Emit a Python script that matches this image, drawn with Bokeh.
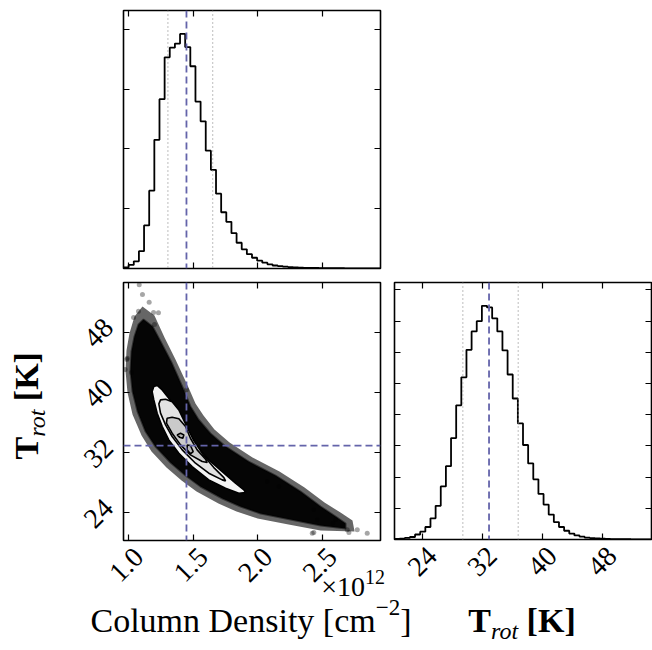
import math
import numpy as np
from bokeh.plotting import figure
from bokeh.models import (Span, LinearAxis, FixedTicker, Range1d, Div,
                          CustomJSTickFormatter)
from bokeh.layouts import column, row
from bokeh.embed import file_html
from bokeh.resources import INLINE

FONT = "Liberation Serif"

# ---------------- data ----------------
cd_range = (0.959, 2.951)          # column density, x 1e12 cm^-2
t_range = (20.28, 54.59)           # T_rot [K]
cd_ticks = [1.0, 1.5, 2.0, 2.5]
t_ticks = [24, 32, 40, 48]
cd_hist_ticks = [1000, 2000, 3000, 4000]
t_hist_ticks = [1000, 2000, 3000, 4000, 5000, 6000, 7000, 8000]

cd_counts = [20, 60, 120, 290, 720, 1300, 2150, 2830, 3530, 3690,
             3760, 3920, 3700, 3380, 2790, 2460, 1970, 1650, 1250, 940,
             780, 590, 430, 320, 240, 180, 130, 98, 70, 50,
             40, 31, 24, 20, 16, 12, 10, 8, 7, 6,
             5, 4, 4, 3, 3, 2, 2, 2, 1, 1]
t_counts = [20, 30, 50, 80, 160, 250, 400, 680, 1080, 1700,
            2350, 3250, 4300, 5200, 6080, 6670, 7000, 7490, 7440, 7090,
            6670, 6060, 5290, 4520, 3720, 3030, 2440, 1930, 1460, 1120,
            800, 560, 400, 280, 190, 130, 90, 60, 45, 35,
            25, 20, 15, 12, 10, 8, 6, 5, 4, 3]

cd_median, cd_q16, cd_q84 = 1.447, 1.303, 1.650
t_median, t_q16, t_q84 = 32.9, 29.4, 36.8

# dense sample cloud outline
cloud_x = [1.114, 1.184, 1.246, 1.331, 1.424, 1.478, 1.540, 1.633, 1.750, 1.928,
           2.137, 2.331, 2.486, 2.602, 2.680, 2.680, 2.486, 2.254, 2.021, 1.866,
           1.726, 1.556, 1.440, 1.323, 1.207, 1.130, 1.068, 1.029, 1.013, 1.021,
           1.044, 1.075]
cloud_t = [49.66, 48.73, 46.74, 43.95, 40.36, 38.10, 36.37, 34.51, 32.78, 30.78,
           28.92, 26.79, 24.80, 23.47, 22.54, 21.87, 22.27, 23.07, 23.87, 24.80,
           25.86, 27.46, 28.92, 30.65, 32.78, 34.77, 37.43, 40.09, 42.75, 45.41,
           47.40, 49.00]
# thin fuzzy fringe around the cloud
halo_x = [1.106, 1.199, 1.277, 1.362, 1.463, 1.517, 1.579, 1.664, 1.781, 1.959,
          2.168, 2.362, 2.517, 2.641, 2.734, 2.750, 2.486, 2.238, 1.998, 1.835,
          1.695, 1.525, 1.409, 1.292, 1.176, 1.099, 1.029, 0.990, 0.975, 0.982,
          1.005, 1.044]
halo_t = [51.40, 50.20, 47.28, 44.35, 40.63, 38.50, 36.90, 35.04, 33.31, 31.32,
          29.46, 27.33, 25.33, 24.00, 22.94, 21.48, 21.61, 22.40, 23.20, 24.13,
          25.19, 26.79, 28.25, 29.98, 32.11, 34.24, 37.03, 39.96, 42.75, 45.55,
          47.81, 50.07]
# isolated samples
out_x = [1.081, 1.106, 1.158, 1.075, 1.192, 1.230, 1.037, 0.985, 0.972, 1.023,
         1.199, 0.988, 1.447, 2.073, 2.163, 2.434, 2.461, 2.581, 2.602, 2.654,
         2.693, 2.706, 2.771, 2.848, 2.422, 2.434]
out_t = [54.30, 52.99, 51.97, 50.77, 50.60, 50.56, 49.93, 44.35, 43.02, 42.62,
         49.00, 44.52, 40.32, 28.12, 27.46, 24.36, 23.03, 22.58, 23.03, 22.36,
         21.70, 21.34, 21.70, 21.25, 21.25, 21.34]

# density contours
c1_x = [1.194, 1.181, 1.194, 1.220, 1.259, 1.310, 1.388, 1.491, 1.620, 1.750, 1.853,
        1.905, 1.892, 1.827, 1.724, 1.620, 1.530, 1.453, 1.388, 1.310, 1.259, 1.220]
c1_t = [40.76, 40.09, 38.98, 37.21, 35.44, 33.66, 31.89, 30.12, 28.34, 27.24, 26.57,
        26.66, 27.02, 27.90, 29.45, 31.00, 32.78, 35.00, 37.21, 39.20, 40.31, 40.89]
c2_x = [1.246, 1.233, 1.246, 1.285, 1.336, 1.414, 1.517, 1.620, 1.724, 1.750,
        1.737, 1.659, 1.582, 1.504, 1.440, 1.388, 1.336, 1.285]
c2_t = [38.98, 38.45, 37.21, 35.66, 34.11, 32.33, 30.56, 29.23, 28.34, 28.21,
        28.65, 29.98, 31.54, 33.57, 35.79, 37.65, 38.72, 39.07]
c3_x = [1.297, 1.292, 1.336, 1.401, 1.478, 1.569, 1.608, 1.595, 1.530, 1.478,
        1.440, 1.388, 1.336]
c3_t = [36.54, 35.88, 34.55, 33.00, 31.67, 30.78, 30.65, 31.09, 32.33, 33.88,
        35.44, 36.46, 36.68]
c4_x = [1.375, 1.401, 1.427, 1.419, 1.393]
c4_t = [34.33, 34.55, 34.33, 33.88, 34.02]
c5_x = [1.453, 1.478, 1.499, 1.478, 1.453]
c5_t = [32.97, 32.91, 32.11, 31.80, 32.33]

# axis titles
x_title_left = ("Column Density [cm", "\u22122", "]")
x_title_right = ("T", "rot", " [K]")
x_multiplier = ("\u00d710", "12")

# ---------------- style ----------------
MED_COLOR = "#6464aa"
Q_COLOR = "#9a9a9a"
FRAME = 257
TICK_FONT = "28px"


def make_fig(xr, yr, fw, fh, bl, br, bt, bb):
    p = figure(x_range=Range1d(*xr), y_range=Range1d(*yr),
               frame_width=fw, frame_height=fh,
               min_border_left=bl, min_border_right=br,
               min_border_top=bt, min_border_bottom=bb,
               x_axis_location=None, y_axis_location=None,
               toolbar_location=None, output_backend="svg")
    p.xgrid.grid_line_color = None
    p.ygrid.grid_line_color = None
    p.outline_line_color = "black"
    p.outline_line_width = 1.6
    p.outline_line_alpha = 1.0
    p.background_fill_color = "white"
    p.border_fill_color = "white"
    return p


def tick_axis(p, place, ticks):
    ax = LinearAxis(ticker=FixedTicker(ticks=ticks))
    ax.axis_line_color = None
    ax.major_tick_in = 6
    ax.major_tick_out = 0
    ax.major_tick_line_color = "black"
    ax.major_tick_line_width = 1.2
    ax.minor_tick_line_color = None
    ax.major_label_text_color = None
    ax.major_label_text_font_size = "0px"
    ax.major_label_standoff = 0
    p.add_layout(ax, place)


def label_axis(p, place, ticks, shift, digits, standoff):
    # rotated tick labels, centred on their ticks (anchor moved by `shift`)
    ax = LinearAxis(ticker=FixedTicker(ticks=[t + shift for t in ticks]),
                    formatter=CustomJSTickFormatter(
                        args=dict(s=shift, d=digits),
                        code="return (tick - s).toFixed(d);"))
    ax.axis_line_color = None
    ax.major_tick_line_color = None
    ax.minor_tick_line_color = None
    ax.major_tick_in = 0
    ax.major_tick_out = 0
    ax.major_label_text_font = FONT
    ax.major_label_text_font_size = TICK_FONT
    ax.major_label_text_color = "black"
    ax.major_label_orientation = math.pi / 4
    ax.major_label_standoff = standoff
    p.add_layout(ax, place)


def step_hist(p, lo, hi, counts):
    edges = np.linspace(lo, hi, len(counts) + 1)
    ys = np.concatenate([[0.0], np.asarray(counts, float), [0.0]])
    xs = np.concatenate([[edges[0]], edges])
    p.step(x=xs, y=ys, mode="after", line_color="black", line_width=1.8)


def vline(p, loc, color, dash, width):
    p.add_layout(Span(location=loc, dimension="height", line_color=color,
                      line_dash=dash, line_width=width))


def hline(p, loc, color, dash, width):
    p.add_layout(Span(location=loc, dimension="width", line_color=color,
                      line_dash=dash, line_width=width))


cd_per_px = (cd_range[1] - cd_range[0]) / 257.0
t_per_px_x = (t_range[1] - t_range[0]) / 257.0
t_per_px_y = (t_range[1] - t_range[0]) / 258.0

# ---------------- top-left: column density histogram ----------------
cd_ymax = 1.1 * max(cd_counts)
p1 = make_fig(cd_range, (0, cd_ymax), FRAME, 258, 123, 8, 10, 3)
step_hist(p1, cd_range[0], cd_range[1], cd_counts)
vline(p1, cd_q16, Q_COLOR, "1 3", 1.3)
vline(p1, cd_q84, Q_COLOR, "1 3", 1.3)
vline(p1, cd_median, MED_COLOR, "7 4", 1.8)
tick_axis(p1, "below", cd_ticks)
tick_axis(p1, "above", cd_ticks)
tick_axis(p1, "left", cd_hist_ticks)
tick_axis(p1, "right", cd_hist_ticks)

# ---------------- bottom-left: 2D ----------------
ROW_H = 329
p2 = make_fig(cd_range, t_range, FRAME, 258, 63, 8, 10, 61)
p2.patch(halo_x, halo_t, fill_color="black", fill_alpha=0.6, line_color=None)
p2.scatter(out_x, out_t, size=5, fill_color="black", fill_alpha=0.35, line_color=None)
p2.patch(cloud_x, cloud_t, fill_color="black", fill_alpha=0.95,
         line_color="black", line_alpha=0.5, line_width=2)
p2.patch(c1_x, c1_t, fill_color="#f4f4f4", line_color="black", line_width=1.6)
p2.patch(c2_x, c2_t, fill_color="#e2e2e2", line_color="black", line_width=1.6)
p2.patch(c3_x, c3_t, fill_color="#cacaca", line_color="black", line_width=1.6)
p2.patch(c4_x, c4_t, fill_color="#b5b5b5", line_color="black", line_width=1.6)
p2.patch(c5_x, c5_t, fill_color="#b5b5b5", line_color="black", line_width=1.6)
vline(p2, cd_median, MED_COLOR, "7 4", 1.8)
hline(p2, t_median, MED_COLOR, "7 4", 1.8)
tick_axis(p2, "below", cd_ticks)
label_axis(p2, "below", cd_ticks, 10 * cd_per_px, 1, 12)
tick_axis(p2, "above", cd_ticks)
tick_axis(p2, "left", t_ticks)
label_axis(p2, "left", t_ticks, 9 * t_per_px_y, 0, 15)
tick_axis(p2, "right", t_ticks)

# ---------------- bottom-right: T_rot histogram ----------------
t_ymax = 1.1 * max(t_counts)
p3 = make_fig(t_range, (0, t_ymax), FRAME, 257, 6, 1, 11, 61)
step_hist(p3, t_range[0], t_range[1], t_counts)
vline(p3, t_q16, Q_COLOR, "1 3", 1.3)
vline(p3, t_q84, Q_COLOR, "1 3", 1.3)
vline(p3, t_median, MED_COLOR, "7 4", 1.8)
tick_axis(p3, "below", t_ticks)
label_axis(p3, "below", t_ticks, 10 * t_per_px_x, 0, 12)
tick_axis(p3, "above", t_ticks)
tick_axis(p3, "left", t_hist_ticks)
tick_axis(p3, "right", t_hist_ticks)

# ---------------- axis titles (HTML text) ----------------
BASE = ("position:relative;font-family:'Liberation Serif',serif;color:black;"
        "line-height:1;")
SPAN = "position:absolute;white-space:nowrap;"

ydiv_html = (
    f"<div style=\"{BASE}width:60px;height:{ROW_H}px;\">"
    f"<span style=\"{SPAN}left:38px;top:160px;transform-origin:0 28.5px;"
    "transform:rotate(-90deg);font-size:34px;font-weight:bold;\">"
    f"{x_title_right[0]}<span style=\"font-size:24px;font-style:italic;"
    f"font-weight:normal;position:relative;top:7px;\">{x_title_right[1]}</span>"
    f"{x_title_right[2]}</span></div>")

xdiv_html = (
    f"<div style=\"{BASE}width:652px;height:50px;\">"
    f"<span style=\"{SPAN}left:251px;top:4px;transform:translateX(-50%);font-size:34px;\">"
    f"{x_title_left[0]}<span style=\"font-size:23px;position:relative;top:-17px;\">"
    f"{x_title_left[1]}</span>{x_title_left[2]}</span>"
    f"<span style=\"{SPAN}left:522px;top:4px;transform:translateX(-50%);"
    "font-size:34px;font-weight:bold;\">"
    f"{x_title_right[0]}<span style=\"font-size:24px;font-style:italic;"
    f"font-weight:normal;position:relative;top:7px;\">{x_title_right[1]}</span>"
    f"{x_title_right[2]}</span>"
    f"<span style=\"{SPAN}right:267px;top:-27px;font-size:28px;z-index:10;\">"
    f"{x_multiplier[0]}<span style=\"font-size:20px;position:relative;top:-12px;\">"
    f"{x_multiplier[1]}</span></span>"
    "</div>")

ydiv = Div(text=ydiv_html, width=60, height=ROW_H, margin=0,
           styles={"overflow": "visible"})
xdiv = Div(text=xdiv_html, width=652, height=50, margin=0,
           styles={"overflow": "visible", "z-index": "10"})

layout = column(p1, row(ydiv, p2, p3), xdiv)
open("out.html", "w").write(file_html(layout, INLINE))
